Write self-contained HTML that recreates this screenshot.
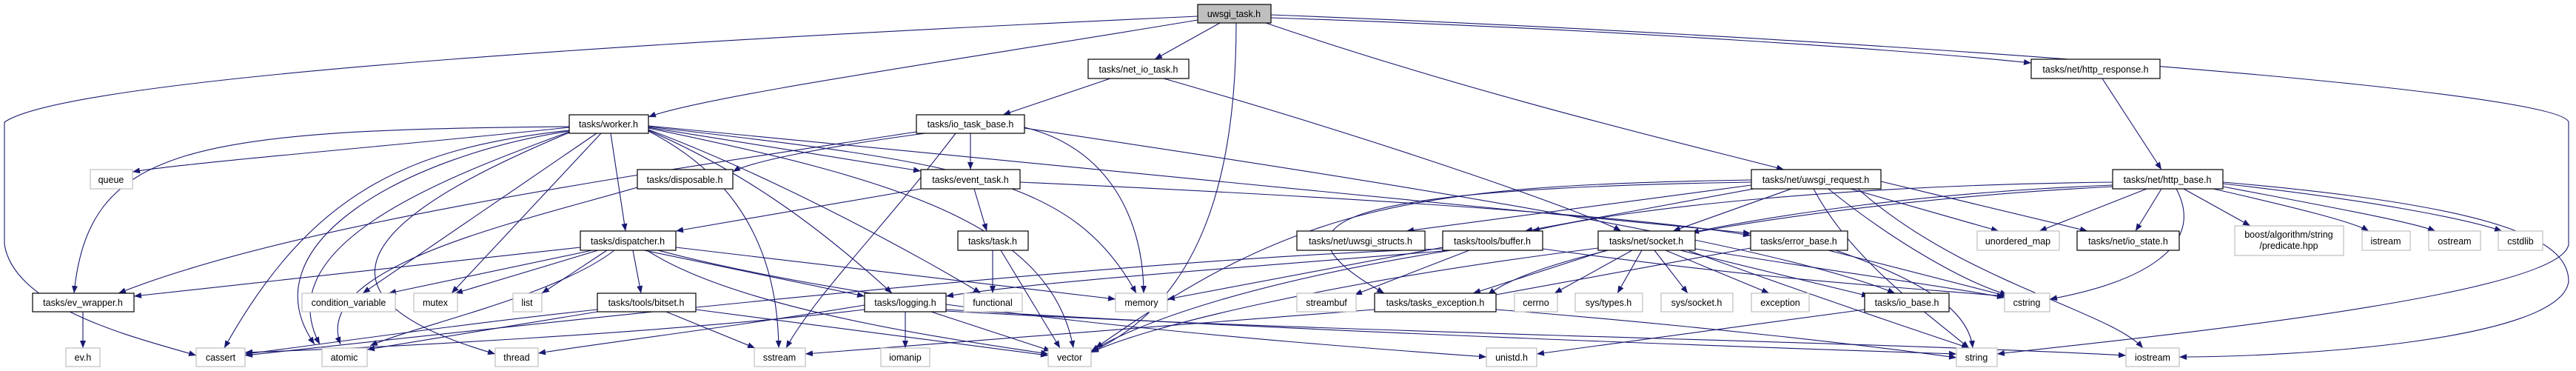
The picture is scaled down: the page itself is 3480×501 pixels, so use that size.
<!DOCTYPE html>
<html><head><meta charset="utf-8"><style>
html,body{margin:0;padding:0;background:#fff;}
svg{display:block;}
text{font-family:"Liberation Sans",Arial,sans-serif;font-size:12.5px;fill:#000;text-anchor:middle;}
.e{fill:none;stroke:#191970;stroke-width:1.1;marker-end:url(#a);}
.n{fill:#fff;stroke:#000;stroke-width:1.2;}
.s{fill:#fff;stroke:#bfbfbf;stroke-width:1.2;}
</style></head><body>
<svg width="3480" height="501" viewBox="0 0 3480 501" xmlns="http://www.w3.org/2000/svg">
<defs><marker id="a" markerWidth="10" markerHeight="8" refX="10" refY="4" orient="auto" markerUnits="userSpaceOnUse"><path d="M0,0 L10,4 L0,8 z" fill="#191970"/></marker></defs>
<g>
<!-- uwsgi_task -->
<path class="e" d="M1618,22 C1000,50 100,100 6,165 L6,330 C20,420 200,460 265,480"/>
<path class="e" d="M1717,20 C2500,50 3460,120 3470,165 L3470,330 C3460,400 2900,455 2698,478"/>
<path class="e" d="M1618,27 C1300,80 950,130 876,158"/>
<path class="e" d="M1648,31 L1560,80"/>
<path class="e" d="M1670,31 C1670,200 1640,400 1474,475"/>
<path class="e" d="M1710,31 C2000,130 2300,200 2410,229"/>
<path class="e" d="M1717,24 C2200,40 2600,70 2744,85"/>
<!-- net_io -->
<path class="e" d="M1500,106 L1355,155"/>
<path class="e" d="M1572,106 C1900,200 2150,290 2190,312"/>
<!-- io_task_base -->
<path class="e" d="M1238,178 C900,230 400,300 160,396"/>
<path class="e" d="M1250,180 C1100,200 1010,220 990,232"/>
<path class="e" d="M1311,180 L1311,229"/>
<path class="e" d="M1291,180 C1200,300 1100,400 1062,470"/>
<path class="e" d="M1384,172 C1500,200 1545,300 1545,396"/>
<path class="e" d="M1384,173 C1900,250 2400,330 2560,396"/>
<!-- worker -->
<path class="e" d="M769,172 C500,200 250,220 179,232"/>
<path class="e" d="M769,171 C250,175 120,200 100,396"/>
<path class="e" d="M769,176 C550,200 420,260 303,470"/>
<path class="e" d="M769,177 C550,210 330,330 425,465"/>
<path class="e" d="M769,178 C600,240 360,330 432,465"/>
<path class="e" d="M769,179 C600,250 330,380 669,478"/>
<path class="e" d="M806,180 L490,396"/>
<path class="e" d="M812,180 L610,396"/>
<path class="e" d="M825,180 L845,312"/>
<path class="e" d="M876,172 L1244,231"/>
<path class="e" d="M876,177 C960,220 1050,300 1052,470"/>
<path class="e" d="M876,176 C1000,230 1100,300 1205,396"/>
<path class="e" d="M876,175 C1050,240 1250,350 1325,396"/>
<path class="e" d="M876,173 C1200,240 1420,300 1450,470"/>
<path class="e" d="M876,171 C1300,220 1450,240 1535,396"/>
<path class="e" d="M876,170 C1500,230 2200,300 2365,315"/>
<!-- disposable -->
<path class="e" d="M861,253 C700,300 420,360 460,465"/>
<!-- event_task -->
<path class="e" d="M1244,255 L913,312"/>
<path class="e" d="M1316,255 L1333,312"/>
<path class="e" d="M1378,246 C1800,265 2200,290 2365,318"/>
<!-- task -->
<path class="e" d="M1341,338 L1341,396"/>
<path class="e" d="M1352,338 L1432,470"/>
<!-- dispatcher -->
<path class="e" d="M784,334 L181,400"/>
<path class="e" d="M800,338 L525,396"/>
<path class="e" d="M808,338 L615,396"/>
<path class="e" d="M820,338 L732,396"/>
<path class="e" d="M830,338 C750,400 560,440 500,467"/>
<path class="e" d="M855,338 L866,396"/>
<path class="e" d="M870,338 L1168,400"/>
<path class="e" d="M913,334 L1507,404"/>
<path class="e" d="M874,338 C1000,420 1300,460 1416,478"/>
<path class="e" d="M889,338 C1200,420 1700,460 2008,482"/>
<!-- bitset -->
<path class="e" d="M807,418 C600,440 400,470 331,478"/>
<path class="e" d="M807,421 L496,472"/>
<path class="e" d="M900,421 L1020,470"/>
<path class="e" d="M940,418 L1416,480"/>
<!-- buffer -->
<path class="e" d="M1949,336 C1500,350 700,440 331,480"/>
<path class="e" d="M1985,338 L1830,398"/>
<path class="e" d="M1960,338 C1700,380 1550,430 1474,474"/>
<path class="e" d="M1960,338 C1700,360 1400,380 1278,400"/>
<path class="e" d="M2084,336 C2400,380 2600,390 2708,400"/>
<path class="e" d="M1949,334 L1577,404"/>
<!-- socket -->
<path class="e" d="M2170,338 L1990,396"/>
<path class="e" d="M2205,338 L2100,396"/>
<path class="e" d="M2218,338 L2185,396"/>
<path class="e" d="M2235,338 L2280,396"/>
<path class="e" d="M2250,338 L2390,396"/>
<path class="e" d="M2270,338 L2525,400"/>
<path class="e" d="M2280,338 C2450,400 2600,450 2660,470"/>
<path class="e" d="M2290,336 C2500,370 2650,390 2708,402"/>
<path class="e" d="M2159,335 C1800,380 1550,440 1474,476"/>
<!-- error_base -->
<path class="e" d="M2365,335 L2010,400"/>
<path class="e" d="M2470,338 L2712,400"/>
<path class="e" d="M2480,338 C2600,380 2660,420 2665,470"/>
<!-- uwsgi_request -->
<path class="e" d="M2366,250 L1900,312"/>
<path class="e" d="M2380,253 L2060,312"/>
<path class="e" d="M2420,255 L2260,312"/>
<path class="e" d="M2366,246 C1800,255 1700,300 1870,396"/>
<path class="e" d="M2366,243 C1900,250 1750,280 1480,470"/>
<path class="e" d="M2500,255 L2700,312"/>
<path class="e" d="M2541,245 L2820,312"/>
<path class="e" d="M2470,255 C2550,320 2650,380 2712,398"/>
<path class="e" d="M2450,255 C2500,350 2600,420 2660,470"/>
<path class="e" d="M2510,255 C2650,380 2850,420 2895,470"/>
<!-- http -->
<path class="e" d="M2840,106 L2920,229"/>
<path class="e" d="M2854,246 C2500,250 2200,280 2070,312"/>
<path class="e" d="M2854,250 C2600,260 2400,290 2285,314"/>
<path class="e" d="M2854,252 C2500,270 2100,330 2010,398"/>
<path class="e" d="M2900,255 L2755,312"/>
<path class="e" d="M2920,255 L2885,312"/>
<path class="e" d="M2940,255 C2980,330 2900,380 2769,404"/>
<path class="e" d="M2950,255 L3040,305"/>
<path class="e" d="M2990,255 C3100,280 3180,300 3200,312"/>
<path class="e" d="M3003,252 C3150,280 3260,300 3290,312"/>
<path class="e" d="M3003,248 C3200,270 3330,295 3380,312"/>
<path class="e" d="M3003,246 C3400,280 3470,330 3470,380 C3460,460 3100,482 2944,482"/>
<!-- logging etc -->
<path class="e" d="M1168,412 C1000,440 800,465 727,477"/>
<path class="e" d="M1223,421 L1223,470"/>
<path class="e" d="M1258,421 L1420,474"/>
<path class="e" d="M1278,418 C1800,450 2400,470 2643,478"/>
<path class="e" d="M1278,420 C1800,450 2500,460 2872,480"/>
<path class="e" d="M1168,418 C900,450 500,470 331,476"/>
<path class="e" d="M1857,418 L1088,478"/>
<path class="e" d="M2021,418 C2300,440 2550,470 2643,483"/>
<path class="e" d="M2519,418 L2076,478"/>
<path class="e" d="M112,421 L112,470"/>
</g>
<g>
<rect x="1618" y="6" width="99" height="25" fill="#bfbfbf" stroke="#000" stroke-width="1.2"/><text x="1667" y="23">uwsgi_task.h</text>
<rect class="n" x="1470" y="80" width="136" height="26"/><text x="1538" y="98">tasks/net_io_task.h</text>
<rect class="n" x="2744" y="80" width="174" height="26"/><text x="2831" y="98">tasks/net/http_response.h</text>
<rect class="n" x="769" y="155" width="107" height="25"/><text x="822" y="172">tasks/worker.h</text>
<rect class="n" x="1238" y="155" width="146" height="25"/><text x="1311" y="172">tasks/io_task_base.h</text>
<rect class="s" x="122" y="229" width="57" height="26"/><text x="150" y="247">queue</text>
<rect class="n" x="861" y="229" width="129" height="26"/><text x="925" y="247">tasks/disposable.h</text>
<rect class="n" x="1244" y="229" width="134" height="26"/><text x="1311" y="247">tasks/event_task.h</text>
<rect class="n" x="2366" y="229" width="175" height="26"/><text x="2453" y="247">tasks/net/uwsgi_request.h</text>
<rect class="n" x="2854" y="229" width="149" height="26"/><text x="2928" y="247">tasks/net/http_base.h</text>
<rect class="n" x="784" y="312" width="129" height="26"/><text x="848" y="330">tasks/dispatcher.h</text>
<rect class="n" x="1294" y="312" width="95" height="26"/><text x="1341" y="330">tasks/task.h</text>
<rect class="n" x="1752" y="312" width="173" height="26"/><text x="1838" y="330">tasks/net/uwsgi_structs.h</text>
<rect class="n" x="1949" y="312" width="135" height="26"/><text x="2016" y="330">tasks/tools/buffer.h</text>
<rect class="n" x="2159" y="312" width="131" height="26"/><text x="2224" y="330">tasks/net/socket.h</text>
<rect class="n" x="2365" y="312" width="131" height="26"/><text x="2430" y="330">tasks/error_base.h</text>
<rect class="s" x="2671" y="312" width="111" height="26"/><text x="2726" y="330">unordered_map</text>
<rect class="n" x="2806" y="312" width="138" height="26"/><text x="2875" y="330">tasks/net/io_state.h</text>
<rect class="s" x="3019" y="305" width="147" height="40"/><text x="3092" y="321">boost/algorithm/string</text><text x="3092" y="336">/predicate.hpp</text>
<rect class="s" x="3191" y="312" width="65" height="26"/><text x="3223" y="330">istream</text>
<rect class="s" x="3281" y="312" width="70" height="26"/><text x="3316" y="330">ostream</text>
<rect class="s" x="3375" y="312" width="60" height="26"/><text x="3405" y="330">cstdlib</text>
<rect class="n" x="44" y="396" width="137" height="25"/><text x="112" y="413">tasks/ev_wrapper.h</text>
<rect class="s" x="408" y="396" width="126" height="25"/><text x="471" y="413">condition_variable</text>
<rect class="s" x="559" y="396" width="59" height="25"/><text x="588" y="413">mutex</text>
<rect class="s" x="693" y="396" width="39" height="25"/><text x="712" y="413">list</text>
<rect class="n" x="807" y="396" width="133" height="25"/><text x="873" y="413">tasks/tools/bitset.h</text>
<rect class="n" x="1168" y="396" width="110" height="25"/><text x="1223" y="413">tasks/logging.h</text>
<rect class="s" x="1302" y="396" width="79" height="25"/><text x="1341" y="413">functional</text>
<rect class="s" x="1507" y="396" width="70" height="25"/><text x="1542" y="413">memory</text>
<rect class="s" x="1752" y="396" width="80" height="25"/><text x="1792" y="413">streambuf</text>
<rect class="n" x="1857" y="396" width="164" height="25"/><text x="1939" y="413">tasks/tasks_exception.h</text>
<rect class="s" x="2046" y="396" width="58" height="25"/><text x="2075" y="413">cerrno</text>
<rect class="s" x="2128" y="396" width="91" height="25"/><text x="2173" y="413">sys/types.h</text>
<rect class="s" x="2244" y="396" width="97" height="25"/><text x="2292" y="413">sys/socket.h</text>
<rect class="s" x="2366" y="396" width="78" height="25"/><text x="2405" y="413">exception</text>
<rect class="n" x="2519" y="396" width="114" height="25"/><text x="2576" y="413">tasks/io_base.h</text>
<rect class="s" x="2708" y="396" width="61" height="25"/><text x="2738" y="413">cstring</text>
<rect class="s" x="89" y="470" width="46" height="25"/><text x="112" y="487">ev.h</text>
<rect class="s" x="265" y="470" width="66" height="25"/><text x="298" y="487">cassert</text>
<rect class="s" x="435" y="470" width="61" height="25"/><text x="465" y="487">atomic</text>
<rect class="s" x="669" y="470" width="58" height="25"/><text x="698" y="487">thread</text>
<rect class="s" x="1019" y="470" width="69" height="25"/><text x="1053" y="487">sstream</text>
<rect class="s" x="1190" y="470" width="66" height="25"/><text x="1223" y="487">iomanip</text>
<rect class="s" x="1416" y="470" width="58" height="25"/><text x="1445" y="487">vector</text>
<rect class="s" x="2008" y="470" width="68" height="25"/><text x="2042" y="487">unistd.h</text>
<rect class="s" x="2643" y="470" width="55" height="25"/><text x="2670" y="487">string</text>
<rect class="s" x="2872" y="470" width="72" height="25"/><text x="2908" y="487">iostream</text>
</g>
</svg>
</body></html>
